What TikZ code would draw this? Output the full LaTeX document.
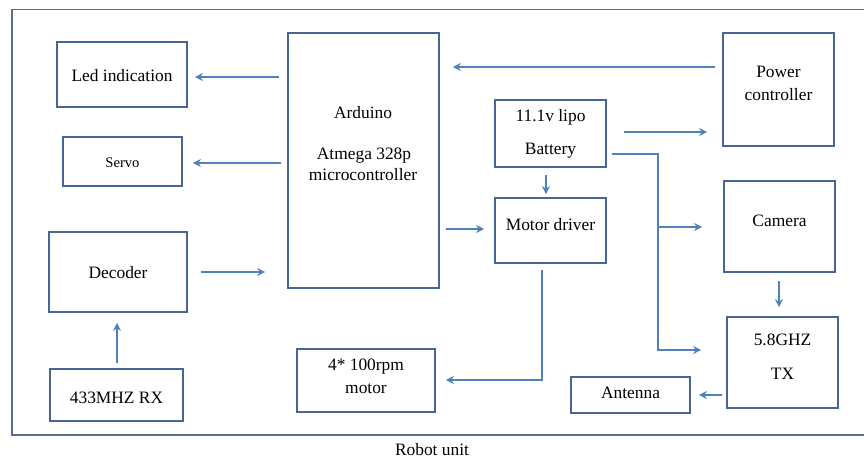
\documentclass[tikz,border=0pt]{standalone}
\usepackage{fontspec}
\setmainfont{Liberation Serif}
\usetikzlibrary{arrows.meta}
\definecolor{boxblue}{RGB}{72,102,146}
\definecolor{arrblue}{RGB}{79,129,189}
\definecolor{frameblue}{RGB}{88,110,140}
\begin{document}
\begin{tikzpicture}[x=1bp,y=-1bp,
  box/.style={draw=boxblue,line width=1.8bp,inner sep=0pt,rectangle},
  txt/.style={font=\fontsize{17.4bp}{21bp}\selectfont,inner sep=0pt,text=black},
  small/.style={font=\fontsize{14.6bp}{18bp}\selectfont,inner sep=0pt,text=black},
  arr/.style={draw=arrblue,line width=2.5bp,-{Stealth[length=8bp,width=8bp]}},
  conn/.style={draw=arrblue,line width=2.5bp}]
\useasboundingbox (0,0) rectangle (864,459);
\fill[white] (0,0) rectangle (864,459);
% frame
\draw[frameblue,line width=1.9bp] (864,9.5) -- (12,9.5) -- (12,435) -- (864,435);
% boxes
\node[box,minimum width=130bp,minimum height=65bp] (led) at (122,74.5) {};
\node[box,minimum width=119bp,minimum height=49bp] (servo) at (122.5,161.5) {};
\node[box,minimum width=151bp,minimum height=255bp] (arduino) at (363.5,160.5) {};
\node[box,minimum width=111bp,minimum height=67bp] (battery) at (550.5,133.5) {};
\node[box,minimum width=111bp,minimum height=65bp] (driver) at (550.5,230.5) {};
\node[box,minimum width=111bp,minimum height=113bp] (power) at (778.5,89.5) {};
\node[box,minimum width=111bp,minimum height=91bp] (camera) at (779.5,226.5) {};
\node[box,minimum width=111bp,minimum height=91bp] (tx) at (782.5,362.5) {};
\node[box,minimum width=119bp,minimum height=36bp] (antenna) at (630.5,395) {};
\node[box,minimum width=138bp,minimum height=63bp] (motor) at (366,380.5) {};
\node[box,minimum width=138bp,minimum height=80bp] (decoder) at (118,272) {};
\node[box,minimum width=133bp,minimum height=52bp] (rx) at (116.5,395) {};
% texts
\node[txt] (tled) at (122,76) {Led indication};
\node[small] (tservo) at (122.5,163) {Servo};
\node[txt] (tard1) at (363,113) {Arduino};
\node[txt] (tard2) at (364,156) {Atmega 328p};
\node[txt] (tard3) at (363,175) {microcontroller};
\node[txt] (tbat1) at (550.5,117) {11.1v lipo};
\node[txt] (tbat2) at (550.5,151) {Battery};
\node[txt] (tdrv) at (550.5,225) {Motor driver};
\node[txt] (tpow1) at (778.5,72) {Power};
\node[txt] (tpow2) at (778.5,95) {controller};
\node[txt] (tcam) at (779.5,221) {Camera};
\node[txt] (ttx1) at (782.5,340) {5.8GHZ};
\node[txt] (ttx2) at (782.5,374) {TX};
\node[txt] (tant) at (630.5,393) {Antenna};
\node[txt] (tmot1) at (366,367) {4* 100rpm};
\node[txt] (tmot2) at (366,389) {motor};
\node[txt] (tdec) at (118,273) {Decoder};
\node[txt] (trx) at (116.5,398) {433MHZ RX};
\node[txt] (trobot) at (432,450) {Robot unit};
% connectors
\draw[arr,shorten <=8bp,shorten >=7bp] (arduino.west |- 0,77) -- (led.east |- 0,77);
\draw[arr,shorten <=6bp,shorten >=10bp] (arduino.west |- 0,163) -- (servo.east |- 0,163);
\draw[arr,shorten <=7bp,shorten >=13bp] (power.west |- 0,67) -- (arduino.east |- 0,67);
\draw[arr,shorten <=7bp,shorten >=3bp] (battery.south -| 546,0) -- (driver.north -| 546,0);
\draw[arr,shorten <=6bp,shorten >=10bp] (arduino.east |- 0,229) -- (driver.west |- 0,229);
\draw[arr,shorten <=17bp,shorten >=15bp] (battery.east |- 0,132) -- (power.west |- 0,132);
\coordinate (junction) at (658,227);
\draw[arr,shorten <=5bp,shorten >=25bp] (battery.east |- 0,154) -- (658,154) -- (658,350) -- (tx.west |- 0,350);
\draw[arr,shorten >=21bp] (junction) -- (camera.west |- junction);
\draw[arr,shorten <=8bp,shorten >=9bp] (camera.south -| 779,0) -- (tx.north -| 779,0);
\draw[arr,shorten <=4bp,shorten >=8bp] (tx.west |- 0,395) -- (antenna.east |- 0,395);
\draw[arr,shorten <=6bp,shorten >=10bp] (driver.south -| 542,0) -- (542,380) -- (motor.east |- 0,380);
\draw[arr,shorten <=13bp,shorten >=22bp] (decoder.east |- 0,272) -- (arduino.west |- 0,272);
\draw[arr,shorten <=5bp,shorten >=10bp] (rx.north -| 117,0) -- (decoder.south -| 117,0);
\end{tikzpicture}
\end{document}
